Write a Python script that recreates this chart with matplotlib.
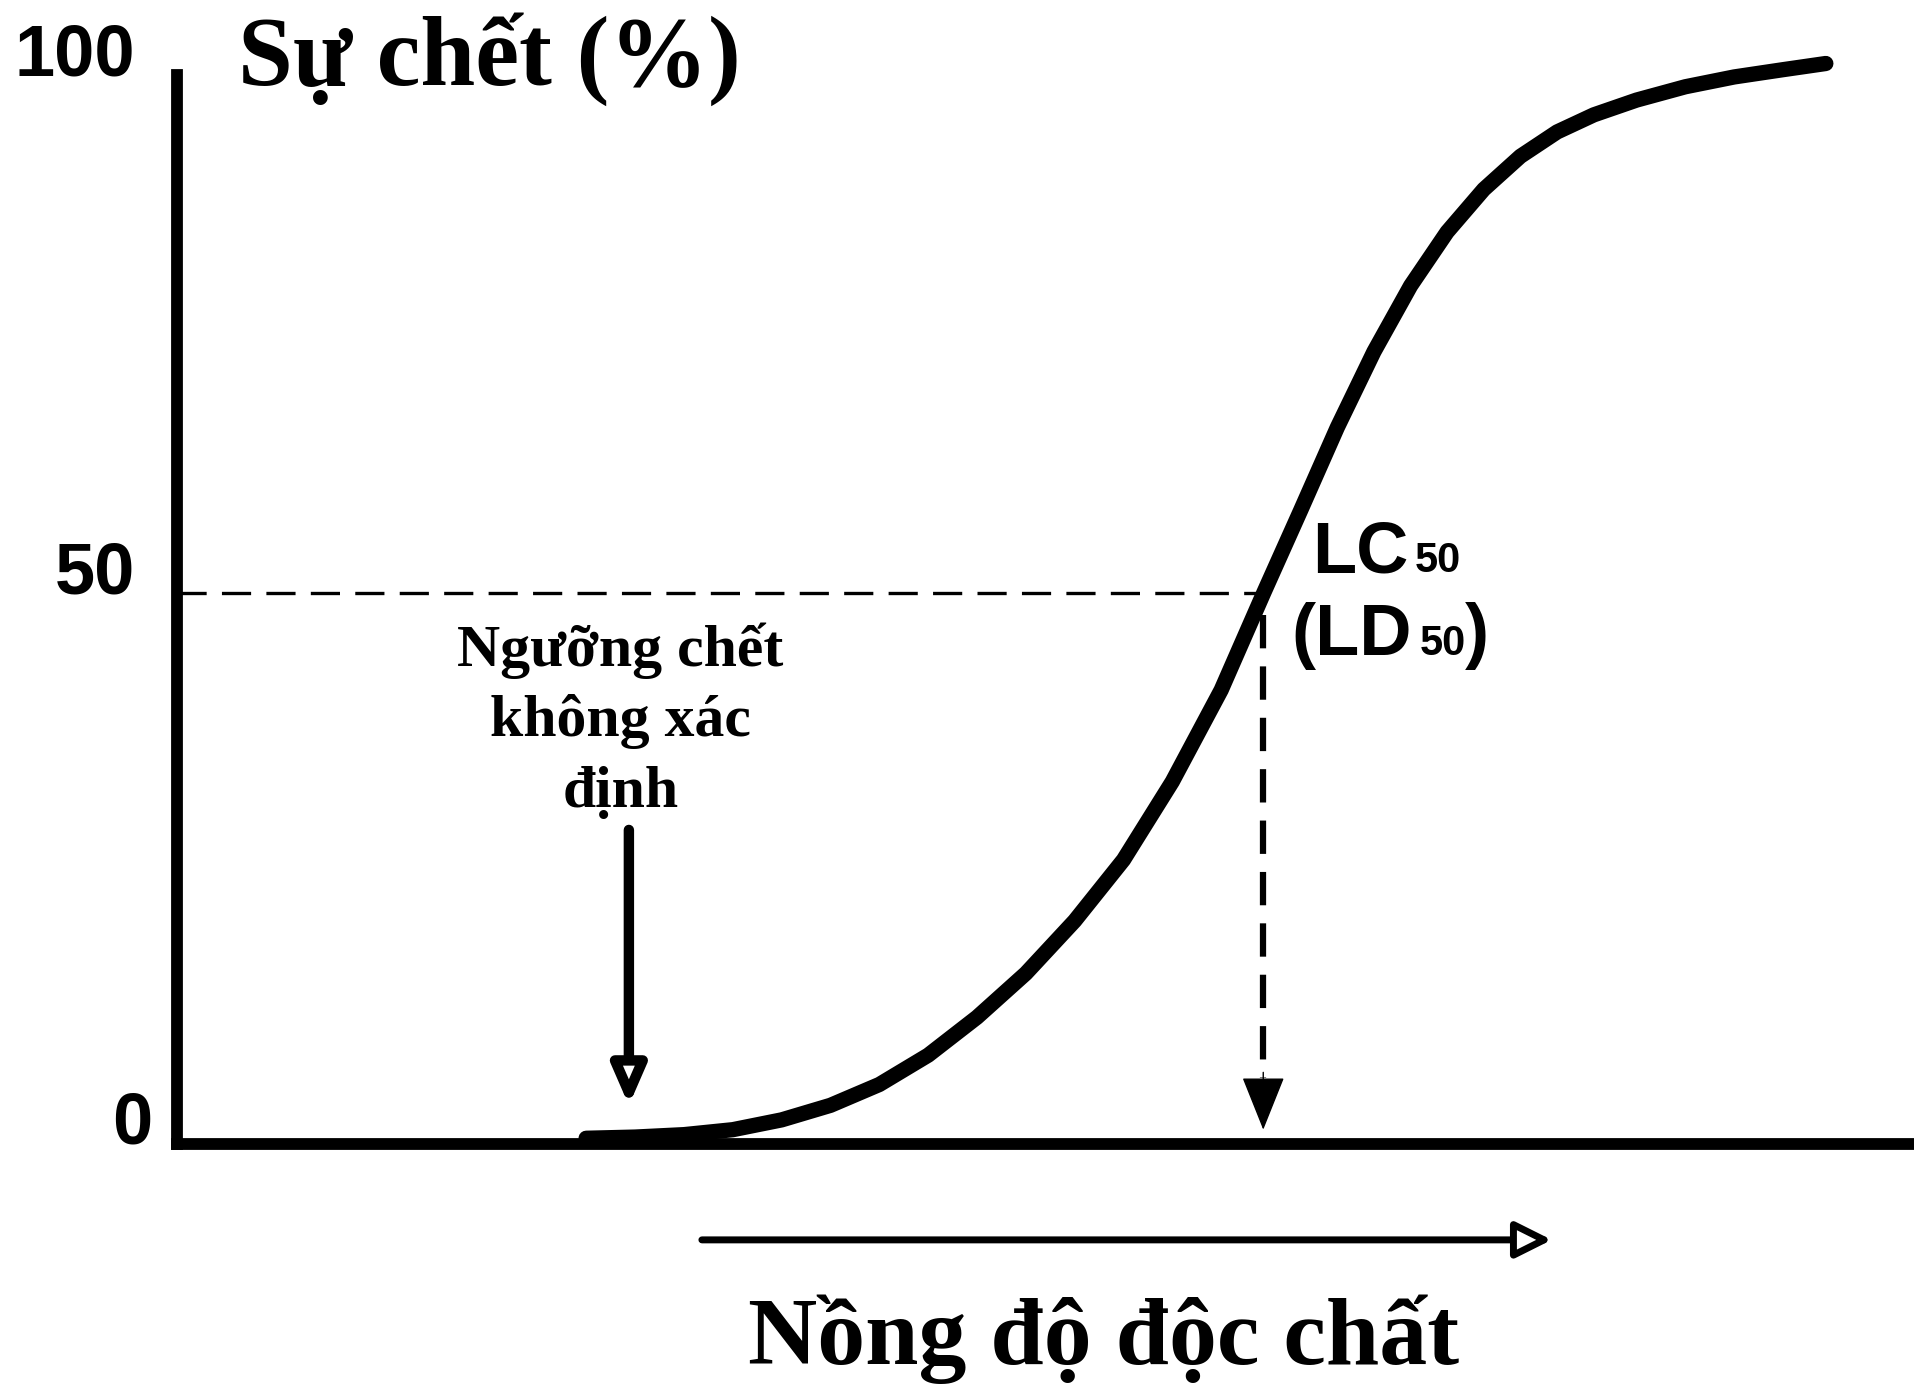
import matplotlib.pyplot as plt

plt.rcParams['lines.scale_dashes'] = False

# dose-response curve (concentration, arbitrary units / mortality %)
conc = [23.54, 26.36, 29.17, 31.98, 34.79, 37.60, 40.41, 43.22, 46.03, 48.84,
        51.65, 54.46, 57.27, 60.08, 62.54, 64.65, 66.76, 68.87, 70.98, 73.08,
        75.19, 77.30, 79.41, 81.52, 83.98, 86.79, 89.60, 92.41, 94.87]
mortality = [0.52, 0.63, 0.85, 1.30, 2.19, 3.51, 5.40, 8.06, 11.50, 15.48,
             20.25, 25.79, 32.89, 41.20, 50.06, 57.49, 65.02, 71.90, 77.88, 82.76,
             86.63, 89.63, 91.84, 93.39, 94.73, 95.94, 96.83, 97.49, 98.05]
y_ticks = [0, 50, 100]
y_ticklabels = ['0', '50', '100']
lc50 = 62.5        # concentration at 50 % mortality
threshold = 26.0   # undefined lethal threshold
axis_top = 97.0    # drawn length of the y axis

serif = dict(family='Liberation Serif', weight='bold')
sans = dict(family='Liberation Sans', weight='bold')

fig = plt.figure(figsize=(19.15, 13.91), dpi=100)
ax = fig.add_axes([177 / 1915, 1 - 1144 / 1391, 1 - 177 / 1915, (1144 - 42) / 1391])
ax.set_xlim(0, 100)
ax.set_ylim(0, 100)
ax.set_xticks([])
ax.set_yticks([])
for s in ['top', 'right']:
    ax.spines[s].set_visible(False)
ax.spines['left'].set_bounds(0, axis_top)
for s in ['left', 'bottom']:
    ax.spines[s].set_linewidth(8.5)
    ax.spines[s].set_capstyle('projecting')

# y tick labels
for v, lab in zip(y_ticks, y_ticklabels):
    ax.text(-2.4 + (1.0 if v == 0 else 0), min(v, axis_top), lab, ha='right',
            va='baseline', fontsize=52, **sans)

# curve
ax.plot(conc, mortality, color='black', lw=11, solid_capstyle='round',
        solid_joinstyle='round', zorder=3)

# 50 % guide lines
ax.plot([0, lc50], [50, 50], color='black', lw=2.4, dashes=(21, 11))
ax.plot([lc50, lc50], [48.0, 6.0], color='black', lw=4.5, dashes=(24, 13))
ax.annotate('', xy=(lc50, 1.3), xytext=(lc50, 6.5),
            arrowprops=dict(arrowstyle='-|>,head_length=35,head_width=14',
                            color='black', lw=1, shrinkA=0, shrinkB=0, mutation_scale=1))

# threshold arrow
ax.annotate('', xy=(threshold, 3.5), xytext=(threshold, 28.5),
            arrowprops=dict(arrowstyle='-|>,head_length=23,head_width=10',
                            fc='white', ec='black', lw=7.5, shrinkA=0, shrinkB=0,
                            mutation_scale=1))

# concentration arrow below the axis
ax.annotate('', xy=(79.1, -8.7), xytext=(30.2, -8.7), annotation_clip=False,
            arrowprops=dict(arrowstyle='-|>,head_length=22,head_width=11',
                            fc='white', ec='black', lw=5, shrinkA=0, shrinkB=0,
                            mutation_scale=1))

# texts
ax.text(3.5, 96.1, 'Sự chết (%)', ha='left', va='baseline', fontsize=71, **serif)
ax.text(53.3, -20.0, 'Nồng độ độc chất', ha='center', va='baseline', fontsize=69,
        **serif)
for txt, yb in zip(['Ngưỡng chết', 'không xác', 'định'], [43.4, 37.0, 30.6]):
    ax.text(25.5, yb, txt, ha='center', va='baseline', fontsize=43, **serif)

ax.text(65.3, 51.9, 'LC', ha='left', va='baseline', fontsize=52, **sans)
ax.text(71.2, 51.9, '50', ha='left', va='baseline', fontsize=30, **sans)
ax.text(64.1, 44.4, '(LD', ha='left', va='baseline', fontsize=52, **sans)
ax.text(71.5, 44.4, '50', ha='left', va='baseline', fontsize=30, **sans)
ax.text(74.1, 44.4, ')', ha='left', va='baseline', fontsize=52, **sans)

fig.savefig('out.png', dpi=100, facecolor='white')
